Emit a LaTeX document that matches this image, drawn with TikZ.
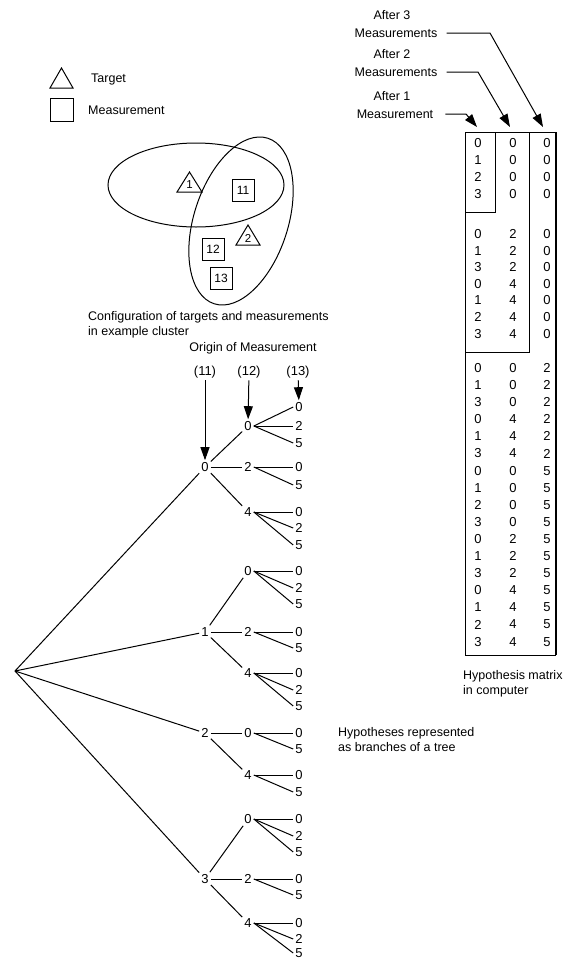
\documentclass[tikz,border=0pt]{standalone}
\usepackage{fontspec}
\setmainfont{Liberation Sans}
\usetikzlibrary{arrows.meta}
\begin{document}
\begin{tikzpicture}[x=1pt,y=-1pt,
  every node/.style={font=\fontsize{12.5}{15}\selectfont},
  txt/.style={inner sep=0pt},
  dig/.style={inner sep=2pt, font=\fontsize{13}{15}\selectfont},
  ln/.style={line width=1pt},
  bigarrow/.style={line width=1pt,-{Triangle[length=13pt,width=9pt]}},
  small/.style={font=\fontsize{11.5}{12}\selectfont, inner sep=0pt},
  mbox/.style={draw, line width=1pt, minimum size=22pt, inner sep=0pt, font=\fontsize{12}{12}\selectfont},
]
\useasboundingbox (0,0) rectangle (575,959);

% ---------- legend ----------
\draw[ln] (50,88) -- (73,88) -- (61.5,68) -- cycle;
\node[txt,anchor=west] (tgt) at (91,79) {Target};
\draw[ln] (50,98) rectangle (73,121);
\node[txt,anchor=west] (msr) at (88,110) {Measurement};

% ---------- cluster ----------
\draw[ln] (196,185) ellipse [x radius=88, y radius=42];
\draw[ln, rotate around={-18:(241,221)}] (241,221) ellipse [x radius=47, y radius=87];
\draw[ln] (177,192) -- (202,192) -- (189.5,172) -- cycle;
\node[small] (tr1) at (189.5,185) {1};
\draw[ln] (236,245) -- (260,245) -- (248,225) -- cycle;
\node[small] (tr2) at (248,238) {2};
\node[mbox] (m11) at (243,190) {11};
\node[mbox] (m12) at (213,249) {12};
\node[mbox] (m13) at (221,278) {13};

\node[txt,anchor=west,align=left] (cap1) at (88,325)
  {Configuration of targets and measurements\\in example cluster};

% ---------- tree ----------
\node[txt] (orig) at (253,348) {Origin of Measurement};
\node[dig] (o11) at (205,372) {(11)};
\node[dig] (o12) at (249,372) {(12)};
\node[dig] (o13) at (298,372) {(13)};

\coordinate (R) at (15,671);
\foreach \n/\xx/\yy/\t in {a/205/467/0, b/205/632/1, c/205/733/2, d/205/879/3,
  a0/248/426/0, a2/248/467/2, a4/248/512/4,
  b0/248/571/0, b2/248/632/2, b4/248/673/4,
  c0/248/733/0, c4/248/775/4,
  d0/248/819/0, d2/248/879/2, d4/248/923/4}
  \node[dig] (\n) at (\xx,\yy) {\t};

\foreach \n/\yy/\t in {a0-0/407/0, a0-2/426/2, a0-5/443/5,
  a2-0/467/0, a2-5/485/5,
  a4-0/512/0, a4-2/528/2, a4-5/545/5,
  b0-0/571/0, b0-2/588/2, b0-5/604/5,
  b2-0/632/0, b2-5/648/5,
  b4-0/673/0, b4-2/690/2, b4-5/706/5,
  c0-0/733/0, c0-5/749/5,
  c4-0/775/0, c4-5/792/5,
  d0-0/819/0, d0-2/836/2, d0-5/852/5,
  d2-0/879/0, d2-5/895/5,
  d4-0/923/0, d4-2/939/2, d4-5/953/5}
  \node[dig] (\n) at (299,\yy) {\t};

\foreach \c in {a,b,c,d} \draw[ln] (R) -- (\c);
\foreach \p/\c in {a/a0,a/a2,a/a4,b/b0,b/b2,b/b4,c/c0,c/c4,d/d0,d/d2,d/d4}
  \draw[ln] (\p) -- (\c);
\foreach \p/\c in {a0/a0-0,a0/a0-2,a0/a0-5,a2/a2-0,a2/a2-5,a4/a4-0,a4/a4-2,a4/a4-5,
  b0/b0-0,b0/b0-2,b0/b0-5,b2/b2-0,b2/b2-5,b4/b4-0,b4/b4-2,b4/b4-5,
  c0/c0-0,c0/c0-5,c4/c4-0,c4/c4-5,
  d0/d0-0,d0/d0-2,d0/d0-5,d2/d2-0,d2/d2-5,d4/d4-0,d4/d4-2,d4/d4-5}
  \draw[ln] (\p.east) -- (\c.west);

\draw[bigarrow] (o11) -- (a);
\draw[bigarrow] (o12) -- (a0);
\draw[bigarrow] (o13) -- (a0-0);

\node[txt,anchor=west,align=left] (cap2) at (338,740)
  {Hypotheses represented\\as branches of a tree};

% ---------- matrix ----------
\node[txt] (af3) at (392,15) {After 3};
\node[txt] (ms3) at (396,33) {Measurements};
\node[txt] (af2) at (392,54) {After 2};
\node[txt] (ms2) at (396,72) {Measurements};
\node[txt] (af1) at (392,96) {After 1};
\node[txt] (ms1) at (395,114) {Measurement};
\coordinate (k3) at (490,33);  \coordinate (tip3) at (543,127);
\coordinate (k2) at (478,72);  \coordinate (tip2) at (510,127);
\coordinate (k1) at (466,114); \coordinate (tip1) at (477,127);
\draw[bigarrow] ([xshift=9pt]ms3.east) -- (k3) -- (tip3);
\draw[bigarrow] ([xshift=9pt]ms2.east) -- (k2) -- (tip2);
\draw[bigarrow] ([xshift=12pt]ms1.east) -- (k1) -- (tip1);

\foreach \a/\b/\c [count=\i from 0] in {0/0/0,1/0/0,2/0/0,3/0/0}{
  \pgfmathsetmacro\yy{143+17*\i}
  \node[dig] (p-\i-a) at (478,\yy) {\a};
  \node[dig] (p-\i-b) at (513,\yy) {\b};
  \node[dig] (p-\i-c) at (547,\yy) {\c};
}
\foreach \a/\b/\c [count=\i from 0] in {0/2/0,1/2/0,3/2/0,0/4/0,1/4/0,2/4/0,3/4/0}{
  \pgfmathsetmacro\yy{234+16.6*\i}
  \node[dig] (q-\i-a) at (478,\yy) {\a};
  \node[dig] (q-\i-b) at (513,\yy) {\b};
  \node[dig] (q-\i-c) at (547,\yy) {\c};
}
\foreach \a/\b/\c [count=\i from 0] in {0/0/2,1/0/2,3/0/2,0/4/2,1/4/2,3/4/2,
  0/0/5,1/0/5,2/0/5,3/0/5,0/2/5,1/2/5,3/2/5,0/4/5,1/4/5,2/4/5,3/4/5}{
  \pgfmathsetmacro\yy{368+17.1*\i}
  \node[dig] (s-\i-a) at (478,\yy) {\a};
  \node[dig] (s-\i-b) at (513,\yy) {\b};
  \node[dig] (s-\i-c) at (547,\yy) {\c};
}
\draw[ln] (465,132) -- (556,132);
\draw[ln] (465,132) -- (465,655) -- (556,655);
\draw[line width=1.4pt] (556,132) -- (556,655);
\draw[ln] (495,132) -- (495,212) -- (465,212);
\draw[ln] (529,132) -- (529,352) -- (465,352);

\node[txt,anchor=west,align=left] (cap3) at (463,684)
  {Hypothesis matrix\\in computer};
\end{tikzpicture}
\end{document}
